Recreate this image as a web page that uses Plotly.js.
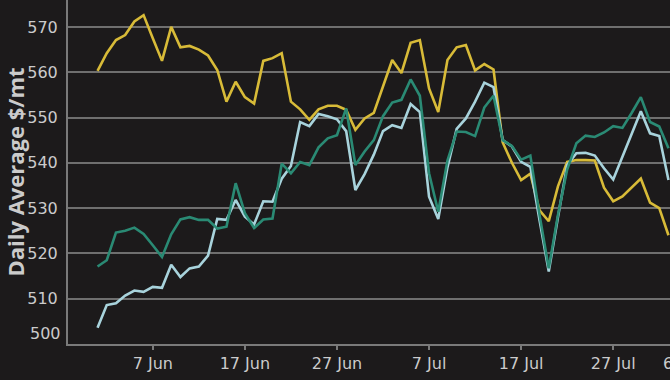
<!DOCTYPE html>
<html><head><meta charset="utf-8">
<script src="https://cdn.plot.ly/plotly-3.0.1.min.js"></script>
<style>html,body{margin:0;padding:0;background:#1c1a1b;overflow:hidden;width:670px;height:380px}#c{width:760px;height:380px}</style>
</head><body><div id="c"></div>
<script>
const startDate = '2023-06-01';
const dayCount = 63;
const yellowSeries = [560.3,564.2,567.1,568.2,571.2,572.6,567.5,562.5,570.0,565.5,565.8,565.0,563.7,560.5,553.5,557.9,554.5,553.1,562.5,563.1,564.2,553.5,551.8,549.5,551.8,552.6,552.6,551.7,547.3,549.8,551.0,556.8,562.7,559.8,566.5,567.1,556.4,551.2,562.7,565.5,566.0,560.4,561.8,560.6,544.5,540.0,536.2,537.6,529.5,527.1,534.8,540.2,540.6,540.6,540.5,534.5,531.5,532.6,534.5,536.5,531.2,530.0,524.0];
const tealSeries = [517.1,518.5,524.6,525.0,525.7,524.3,521.8,519.2,524.2,527.5,528.0,527.4,527.4,525.5,525.9,535.5,528.9,525.6,527.5,527.7,539.8,537.7,540.2,539.5,543.4,545.4,546.1,552.0,539.5,542.5,545.0,550.3,553.3,553.9,558.4,554.8,537.7,529.2,540.5,546.9,546.8,545.9,552.2,554.8,545.0,543.7,540.7,541.6,528.5,516.7,528.5,538.5,544.3,546.0,545.7,546.7,548.1,547.7,551.0,554.5,549.0,548.0,543.2];
const lightSeries = [503.6,508.6,509.0,510.7,511.8,511.5,512.6,512.4,517.5,514.8,516.7,517.1,519.5,527.6,527.4,531.8,528.1,526.4,531.5,531.4,536.5,539.3,549.0,548.1,550.8,550.3,549.6,547.0,534.0,537.5,541.8,547.0,548.3,547.7,553.0,551.2,532.5,527.6,539.0,547.5,549.8,553.5,557.7,556.7,545.0,543.6,540.2,539.1,527.3,516.0,528.0,539.5,542.1,542.2,541.6,538.8,536.3,541.2,546.2,551.4,546.5,545.9,536.2];
const yTickVals = [510,520,530,540,550,560,570];
const yTickText = ['510','520','530','540','550','560','570'];
const xTickVals = ['2023-06-07','2023-06-17','2023-06-27','2023-07-07','2023-07-17','2023-07-27'];
const xTickText = ['7 Jun','17 Jun','27 Jun','7 Jul','17 Jul','27 Jul'];
const bottomTickLabel = '500';
const cutTickLabel = '6 Aug';
const yTitle = 'Daily Average $/mt';

const dates = [];
const d0 = new Date(startDate + 'T00:00:00Z');
for (let i = 0; i < dayCount; i++) {
  const d = new Date(d0.getTime() + i * 86400000);
  dates.push(d.toISOString().slice(0,10));
}
const tickFont = {family:'DejaVu Sans, sans-serif', size:16, color:'#cbcbcb'};
const traces = [
  {x:dates, y:yellowSeries, mode:'lines', line:{color:'#d8bb38', width:2.6}, hoverinfo:'skip'},
  {x:dates, y:lightSeries, mode:'lines', line:{color:'#a8d3dc', width:2.6}, hoverinfo:'skip'},
  {x:dates, y:tealSeries, mode:'lines', line:{color:'#2a8a74', width:2.6}, hoverinfo:'skip'}
];
const layout = {
  width:760, height:380,
  paper_bgcolor:'#1c1a1b', plot_bgcolor:'#1c1a1b',
  margin:{l:68, r:90, t:0, b:36},
  showlegend:false,
  xaxis:{type:'date', range:['2023-05-28 19:00','2023-08-02 04:00'],
    tickvals:xTickVals, ticktext:xTickText, tickfont:tickFont,
    showgrid:false, zeroline:false, showline:true, linecolor:'#7a7a7a', linewidth:2,
    ticks:'outside', ticklen:4, tickcolor:'#7a7a7a', tickwidth:2},
  yaxis:{range:[500,575.94], tickvals:yTickVals, ticktext:yTickText, tickfont:tickFont,
    showgrid:true, gridcolor:'#6f6f6f', gridwidth:2, zeroline:false,
    showline:true, linecolor:'#7a7a7a', linewidth:2, ticks:'', ticklabelstandoff:5,
    title:{text:yTitle, font:{family:'Open Sans, sans-serif', size:22, color:'#cbcbcb', weight:'bold'}, standoff:6}},
  annotations:[
    {xref:'paper', yref:'paper', x:-0.0085, y:1 - 333/344, text:bottomTickLabel, showarrow:false, xanchor:'right', yanchor:'middle', font:tickFont},
    {xref:'paper', yref:'paper', x:(661-68)/602, y:-(363-344)/344, text:cutTickLabel, showarrow:false, xanchor:'left', yanchor:'middle', font:tickFont}
  ]
};
Plotly.newPlot('c', traces, layout, {staticPlot:true, displayModeBar:false});
</script></body></html>
